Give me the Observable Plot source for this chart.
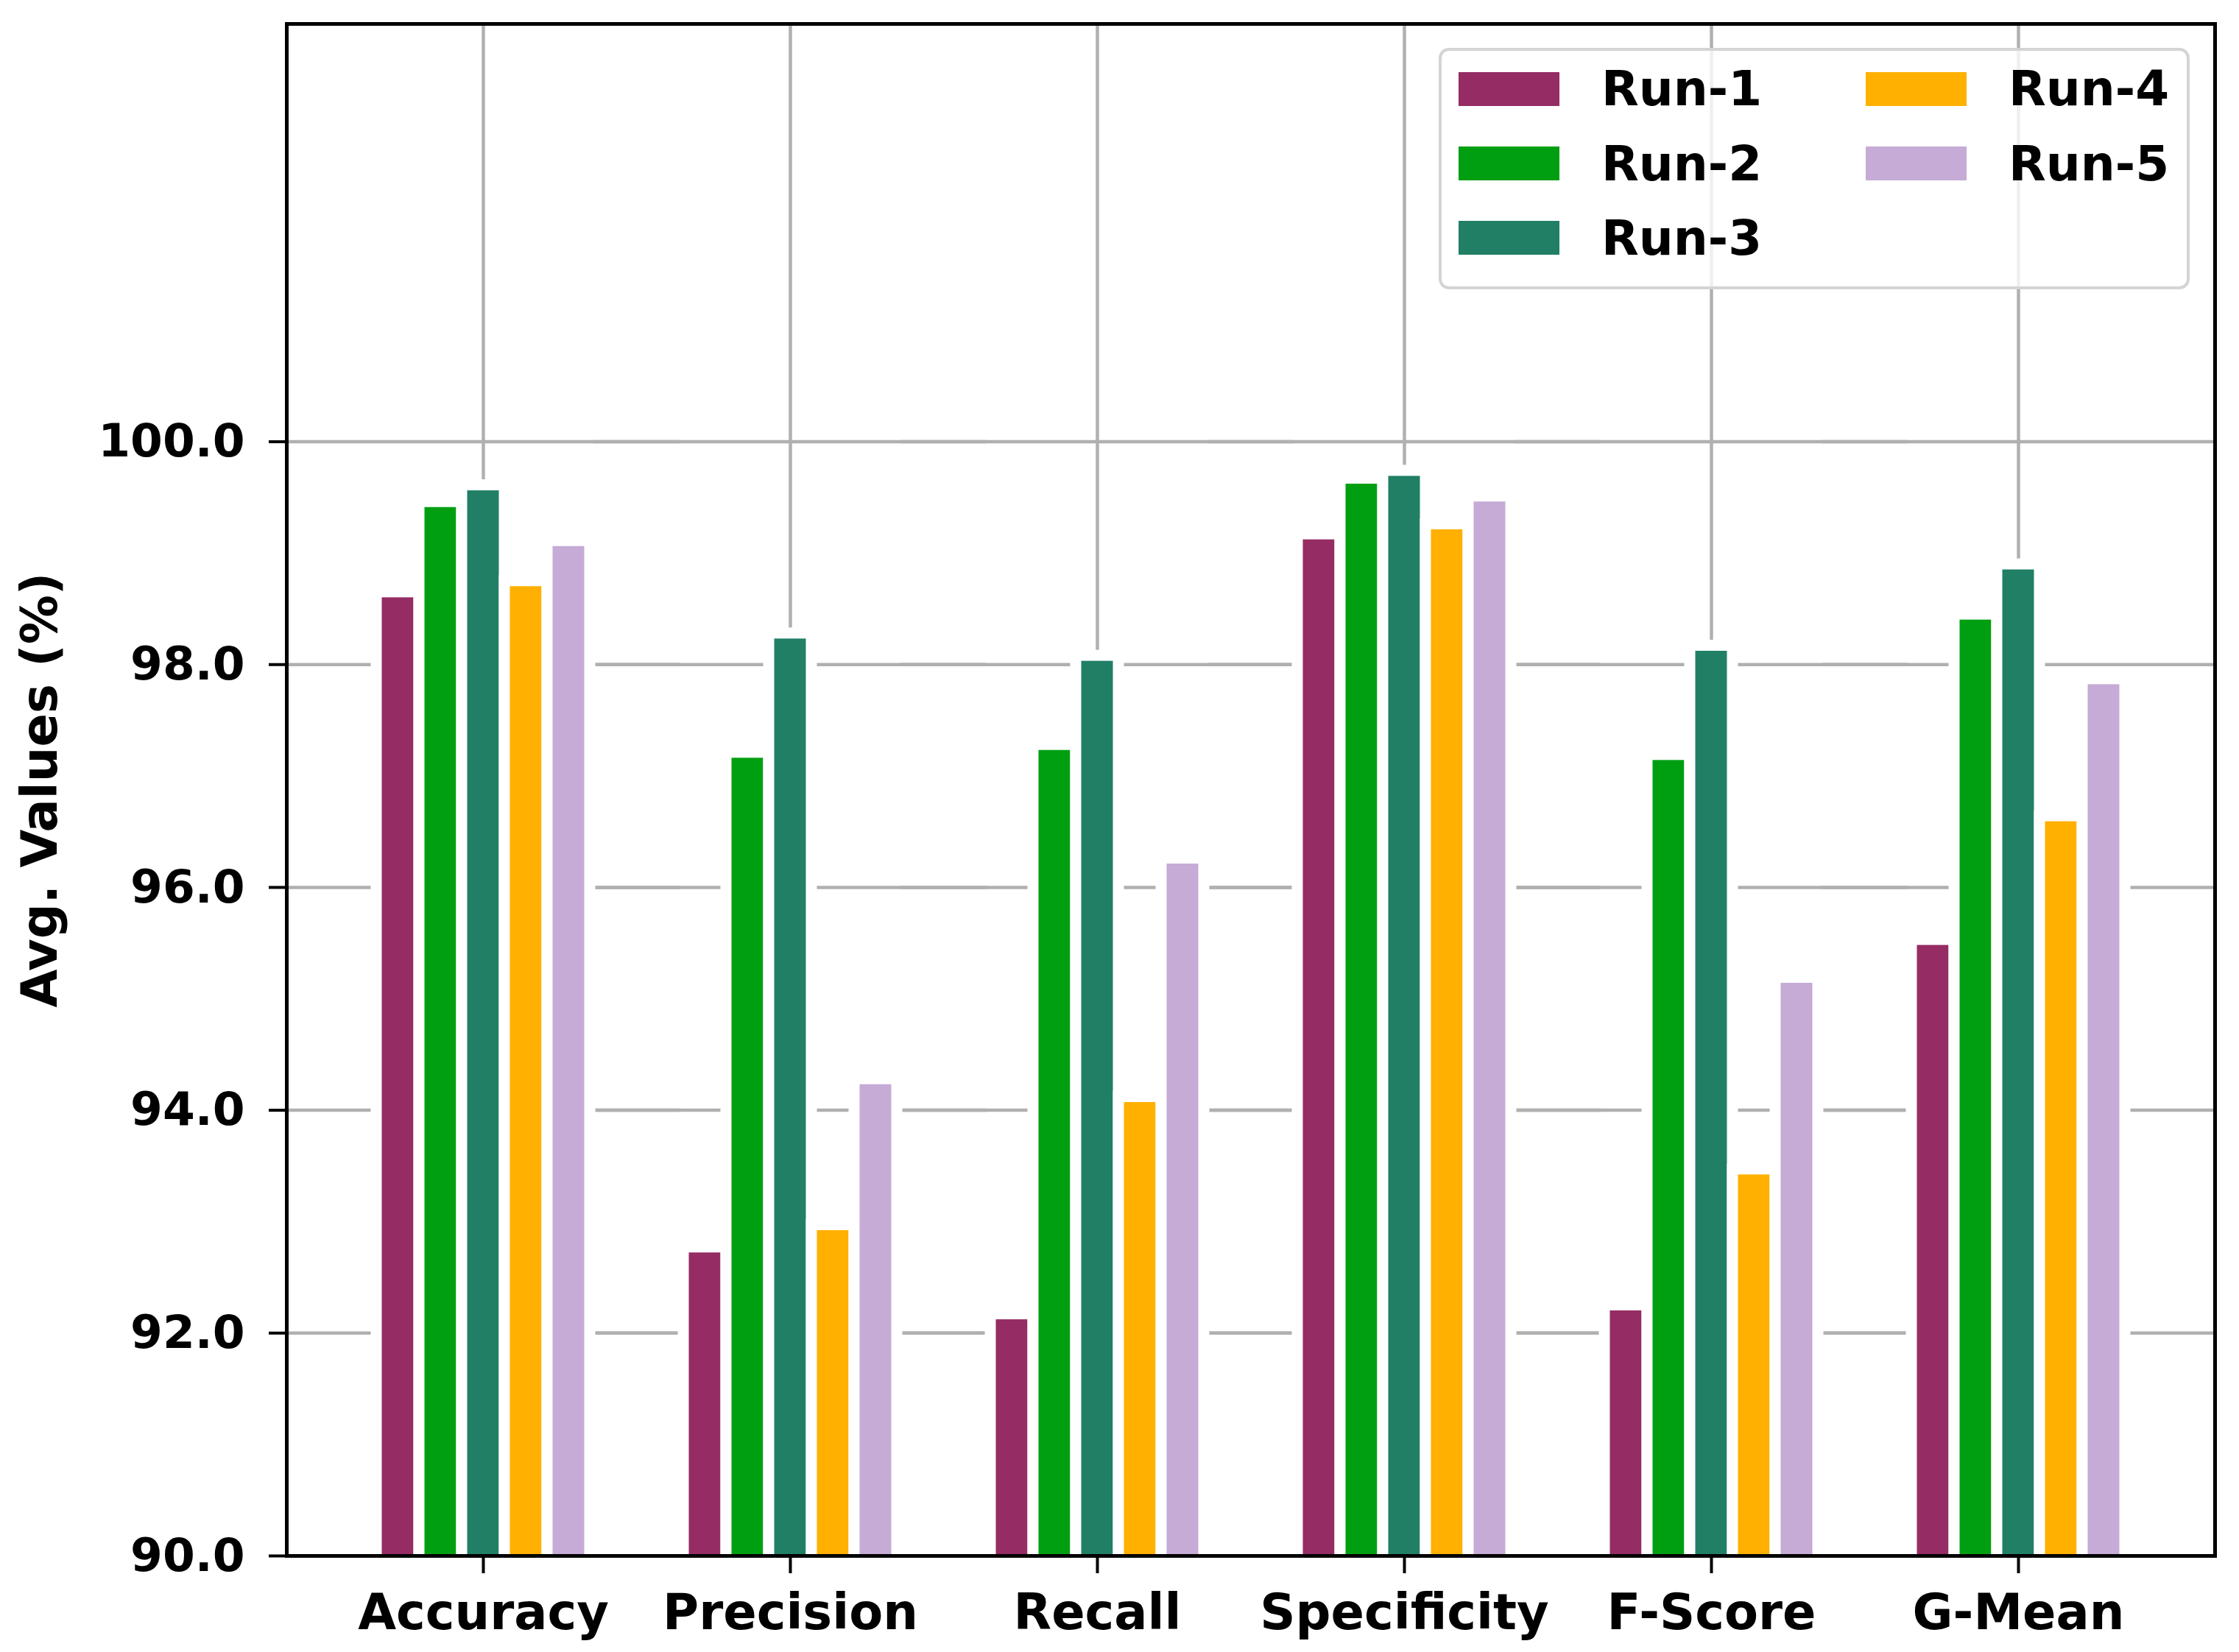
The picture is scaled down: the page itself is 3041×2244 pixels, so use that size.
<!DOCTYPE html>
<html>
<head>
<meta charset="utf-8">
<script src="https://cdn.jsdelivr.net/npm/d3@7"></script>
<script src="https://cdn.jsdelivr.net/npm/@observablehq/plot@0.6"></script>
<style>
  body { margin: 0; background: #fff; }
  #wrap { position: relative; width: 3041px; height: 2244px; background: #fff; }
  #legend {
    position: absolute; left: 1954px; top: 65px; width: 1020px; height: 328px;
    box-sizing: border-box; border: 4px solid #d4d4d4; border-radius: 14px;
    background: rgba(255,255,255,0.8); padding: 1px 0 0 23px;
  }
  #legend .lg-swatches { margin: 0; column-gap: 140px; width: 966px; }
  #legend .lg-swatch { height: 101.4px; padding-bottom: 0; }
  #legend .lg-swatch > svg { margin-right: 57px; }
</style>
</head>
<body>
<div id="wrap"><div id="legend"></div></div>
<script>
// ---- data ----
const metrics = ["Accuracy", "Precision", "Recall", "Specificity", "F-Score", "G-Mean"];
const runs = ["Run-1", "Run-2", "Run-3", "Run-4", "Run-5"];
const run1 = [98.65, 92.77, 92.17, 99.17, 92.25, 95.53];
const run2 = [99.46, 97.21, 97.28, 99.67, 97.19, 98.45];
const run3 = [99.61, 98.28, 98.08, 99.74, 98.17, 98.90];
const run4 = [98.75, 92.97, 94.12, 99.26, 93.47, 96.64];
const run5 = [99.11, 94.28, 96.26, 99.51, 95.19, 97.87];
const colors = ["#952c64", "#009f12", "#217f66", "#ffb000", "#c5abd5"];
const yTicks = [90, 92, 94, 96, 98, 100];
const yDomain = [90, 103.75];

const series = [run1, run2, run3, run4, run5];
const data = metrics.flatMap((m, i) => runs.map((r, j) => ({metric: m, run: r, value: series[j][i]})));

const font = {fontFamily: "DejaVu Sans", fontSize: "67px", fontWeight: "bold", color: "black", background: "transparent"};
const gridColor = "#b0b0b0";
const spread = -113; // facet frame to outer frame

const chart = Plot.plot({
  width: 3041,
  height: 2244,
  marginLeft: 388,
  marginRight: 32,
  marginTop: 32,
  marginBottom: 131,
  facet: {marginTop: 0, marginRight: 0, marginBottom: 0, marginLeft: 0},
  style: font,
  fx: {domain: metrics, paddingInner: 0.2616, paddingOuter: 0.2708},
  x: {domain: runs, paddingInner: 0, paddingOuter: 0, insetLeft: 8, insetRight: 8, axis: null},
  y: {domain: yDomain},
  color: {domain: runs, range: colors},
  marks: [
    Plot.gridY(yTicks, {stroke: gridColor, strokeOpacity: 1, strokeWidth: 4.5, insetLeft: spread, insetRight: spread}),
    Plot.gridFx({stroke: gridColor, strokeOpacity: 1, strokeWidth: 4.5}),
    Plot.barY(data, {fx: "metric", x: "run", y: "value", fill: "run", stroke: "white", strokeWidth: 15, clip: true}),
    Plot.frame({facet: "super", stroke: "black", strokeWidth: 5, insetLeft: spread, insetRight: spread}),
    Plot.axisY(yTicks, {
      tickSize: 24, tickPadding: 33, tickFormat: d3.format(".1f"), strokeWidth: 4, dx: spread,
      fontSize: 63, label: null
    }),
    Plot.axisY([], {
      tickSize: 0, label: "Avg. Values (%)", labelAnchor: "center", labelArrow: "none", labelOffset: 473, fontSize: 67
    }),
    Plot.axisFx({anchor: "bottom", tickSize: 24, tickPadding: 28, strokeWidth: 4, label: null, fontSize: 67})
  ]
});
document.getElementById("wrap").prepend(chart);

const legend = Plot.legend({
  color: {domain: runs, range: colors},
  legend: "swatches",
  columns: 2,
  swatchWidth: 137,
  swatchHeight: 46,
  className: "lg",
  style: {...font, fontSize: "66px"}
});
document.getElementById("legend").append(legend);
</script>
</body>
</html>
